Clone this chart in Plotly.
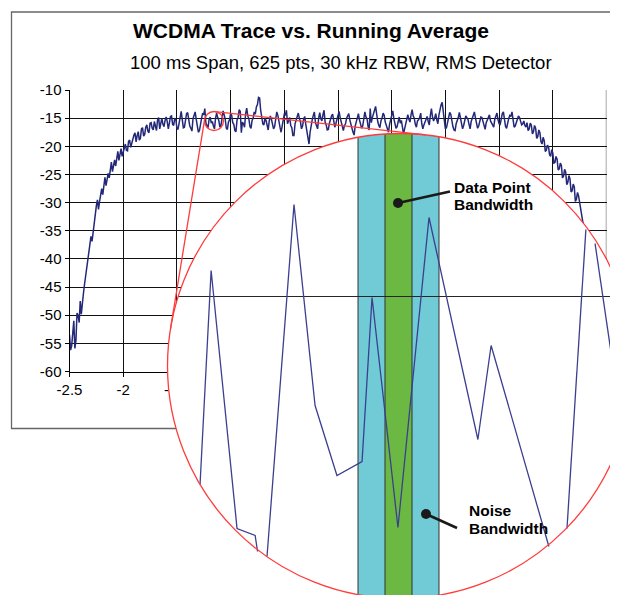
import numpy as np
import plotly.graph_objects as go

# ------------------------------------------------------------------ data
TITLE = "WCDMA Trace vs. Running Average"
SUBTITLE = "100 ms Span, 625 pts, 30 kHz RBW, RMS Detector"

# main trace: frequency offset (MHz) and level (dB)
freq_mhz = np.round(np.linspace(-2.5, 2.5, 501), 2)
level_db = [
    # rising edge  (-2.50 .. -1.60)
    -53.5, -56.2, -55.5, -52.8, -51.0, -55.9, -54.5, -49.6, -50.0, -51.3,
    -47.5, -49.8, -47.3, -46.1, -44.5, -43.0, -41.0, -40.2, -38.4, -37.1,
    -36.0, -36.9, -35.0, -33.4, -32.0, -30.6, -29.5, -31.2, -29.8, -28.1,
    -27.5, -28.6, -26.4, -25.5, -27.0, -25.9, -24.8, -25.6, -23.9, -22.8,
    -24.5, -23.2, -22.4, -23.5, -21.6, -20.9, -22.5, -21.4, -20.4, -21.8,
    -21.1, -19.9, -19.6, -20.7, -20.8, -19.1, -18.9, -20.2, -19.5, -18.3,
    -18.0, -17.6, -19.2, -18.1, -17.4, -18.9, -18.6, -16.9, -16.7, -18.2,
    -17.9, -16.6, -16.2, -17.3, -17.6, -15.9, -15.8, -16.8, -17.1, -15.6,
    -16.4, -17.2, -15.3, -14.9, -16.9, -15.8, -15.0, -16.1, -16.5, -15.4,
    -14.8,
    # in-band  (-1.59 .. 1.74)
    -15.6, -16.9, -15.9, -14.7, -14.6, -16.1, -16.3, -15.0, -15.2, -16.8,
    -17.0, -15.4, -14.9, -13.8, -15.8, -16.7, -16.6, -15.1, -14.2, -14.0,
    -15.5, -16.4, -16.8, -17.3, -15.1, -14.5, -13.9, -15.2, -16.2, -17.5,
    -17.2, -15.7, -15.0, -14.1, -14.4, -13.3, -15.9, -16.3, -16.7, -15.2,
    -14.8, -15.9, -15.6, -16.4, -16.9, -15.0, -14.1, -14.9, -15.4, -16.6,
    -16.3, -15.1, -13.7, -14.4, -15.2, -16.8, -17.0, -15.7, -15.3, -14.2,
    -14.5, -15.8, -16.1, -17.2, -17.4, -15.3, -14.9, -13.5, -13.8, -17.6,
    -15.7, -16.0, -16.6, -14.2, -13.2, -14.6, -15.1, -16.5, -16.8, -15.4,
    -15.0, -13.9, -14.3, -13.0, -12.6, -11.3, -11.4, -13.6, -14.8, -16.0,
    -16.2, -15.1, -15.4, -16.7, -17.1, -15.5, -14.6, -15.2, -15.9, -16.9,
    -16.5, -14.8, -13.9, -14.5, -15.3, -16.6, -17.5, -16.2, -15.8, -14.3,
    -14.4, -13.6, -16.0, -15.5, -14.9, -16.3, -16.7, -18.1, -18.1, -16.0,
    -15.2, -14.7, -14.1, -15.0, -15.6, -16.9, -16.4, -15.2, -14.7, -16.1,
    -17.3, -18.4, -19.6, -17.5, -16.0, -15.3, -14.5, -13.9, -15.8, -16.6,
    -16.9, -15.0, -14.0, -15.1, -15.5, -14.4, -13.6, -15.7, -16.2, -17.1,
    -17.0, -15.9, -15.1, -14.6, -14.3, -15.8, -16.6, -16.0, -15.4, -14.6,
    -13.8, -14.9, -15.7, -16.6, -17.2, -16.3, -16.0, -15.0, -14.6, -14.2,
    -15.3, -16.4, -16.8, -17.5, -18.0, -16.4, -15.5, -14.7, -14.2, -15.3,
    -15.9, -16.8, -16.4, -14.6, -13.9, -14.8, -15.1, -16.5, -17.1, -13.3,
    -15.8, -14.9, -14.0, -13.6, -12.9, -14.9, -15.6, -16.3, -16.7, -15.5,
    -15.0, -14.1, -14.5, -15.7, -16.3, -17.0, -17.5, -16.1, -15.2, -14.3,
    -13.7, -15.1, -15.9, -16.8, -16.5, -15.3, -14.8, -15.9, -15.4, -16.6,
    -17.8, -16.9, -16.1, -15.0, -14.4, -15.2, -15.7, -14.4, -13.5, -14.6,
    -15.0, -16.1, -16.6, -15.5, -15.3, -14.9, -14.1, -16.0, -16.9, -16.2,
    -15.6, -15.0, -14.7, -15.6, -16.2, -14.5, -13.3, -14.8, -15.5, -15.0,
    -14.2, -15.3, -16.0, -14.4, -13.1, -12.6, -12.2, -14.3, -15.4, -16.9,
    -16.7, -15.8, -15.1, -14.0, -14.3, -15.7, -16.5, -17.1, -17.2, -16.0,
    -15.6, -14.9, -14.0, -15.2, -15.8, -16.9, -16.3, -15.4, -14.6, -14.9,
    -15.2, -16.1, -16.9, -15.6, -15.0, -14.2, -13.9, -15.0, -15.7, -16.8,
    -16.4, -15.3, -14.8, -14.9, -15.5, -16.4, -17.0, -15.8, -15.2, -14.6,
    -14.4, -15.5, -15.9, -16.3, -16.6, -15.2, -14.5, -14.1, -15.3, -16.0,
    -16.1, -15.0, -14.2, -13.9, -15.7, -16.5, -16.8, -15.6, -15.0, -14.5,
    -14.7, -13.9, -15.8, -16.6, -16.4, -15.7, -15.1, -14.6, -14.9, -15.8,
    -16.2, -16.0, -15.5, -16.3,
    # falling edge  (1.75 .. 2.50)
    -16.6, -15.8, -17.2, -16.9, -15.9, -16.2, -17.8, -17.4, -16.3, -16.8,
    -18.6, -18.3, -17.1, -17.6, -19.2, -19.6, -18.4, -19.0, -20.9, -20.7,
    -19.8, -20.1, -21.5, -21.8, -20.6, -21.2, -23.0, -22.9, -21.8, -22.3,
    -24.2, -24.0, -23.0, -23.4, -25.6, -25.3, -24.1, -24.6, -26.8, -26.4,
    -25.2, -25.8, -28.1, -27.9, -26.7, -27.2, -29.8, -29.4, -28.2, -28.8,
    -30.2, -31.0, -32.6, -33.5, -34.1, -35.2, -36.5, -37.4, -38.2, -39.6,
    -40.3, -41.5, -42.9, -43.8, -44.4, -45.6, -47.0, -47.9, -48.5, -49.5,
    -50.9, -51.8, -52.4, -53.4, -54.6, -55.0,
]

x_tick_vals = [-2.5, -2.0, -1.5, -1.0, -0.5, 0.0, 0.5, 1.0, 1.5, 2.0, 2.5]
x_tick_text = ["-2.5", "-2", "-1.5", "-1", "-0.5", "0", "0.5", "1", "1.5", "2", "2.5"]
y_tick_vals = [-60, -55, -50, -45, -40, -35, -30, -25, -20, -15, -10]
y_tick_text = ["-60", "-55", "-50", "-45", "-40", "-35", "-30", "-25", "-20", "-15", "-10"]

# magnified view: x in trace points relative to the marked point, y in dB
# (None = where the line leaves the magnifier)
zoom_pts = [-7.35, -6.94, -5.98, -5.31, -5.22, None,
            -4.87, -3.87, -3.09, -2.28, -1.35, -0.98, -0.02, 1.13, 2.94, 3.43, 5.57, None,
            6.24, 6.94, None,
            7.28, 8.09, 8.57]
zoom_db = [-16.88, -14.74, -17.32, -17.39, -17.55, None,
           -17.60, -14.08, -16.09, -16.79, -16.65, -15.01, -17.31, -14.21, -16.43, -15.49, -17.50, None,
           -17.32, -14.33, None,
           -14.47, -15.99, -16.84]
zoom_grid_db = -15.0
data_point_bw = 1.0   # in trace points
noise_bw = 3.0        # in trace points

label_data_point = ["Data Point", "Bandwidth"]
label_noise = ["Noise", "Bandwidth"]

# ------------------------------------------------------------------ geometry / style
W, H = 618, 595
OFF = 8.0          # page offset of the figure (body margin); coords below are window pixels
FONT = "Liberation Sans, Arial, sans-serif"
PLOT_L, PLOT_R, PLOT_T, PLOT_B = 69.5, 606.5, 90.0, 371.5
LENS_C, LENS_R = (214.0, 121.0), 9.5          # small circle on the main chart
MAG_C, MAG_R = (400.0, 366.0), 232.5          # magnifier circle
MAG_X0_PX, PX_PER_PT = 398.5, 27.0
GRID_PY, PX_PER_DB = 296.5, 100.0

NAVY = "#232878"
ZNAVY = "#3b3f8f"
RED = "#ff3b3b"
CYAN = "#70cbd7"
GREEN = "#6bb843"


def pxp(x):
    return (x - OFF) / W


def pyp(y):
    return 1 - (y - OFF) / H


def x2_of(px):
    return (px - MAG_X0_PX) / PX_PER_PT


def y2_of(py):
    return zoom_grid_db - (py - GRID_PY) / PX_PER_DB


cx2, cy2 = x2_of(MAG_C[0]), y2_of(MAG_C[1])
rx2, ry2 = MAG_R / PX_PER_PT, MAG_R / PX_PER_DB


def half_height(xs):
    xs = np.asarray(xs, dtype=float)
    return ry2 * np.sqrt(np.clip(1 - ((xs - cx2) / rx2) ** 2, 0, None))


fig = go.Figure()

# main chart
fig.add_trace(go.Scatter(x=freq_mhz, y=level_db, mode="lines",
                         line=dict(color=NAVY, width=1.5),
                         xaxis="x", yaxis="y", hoverinfo="skip"))

# bandwidth bands inside the magnifier
bands = [(-noise_bw / 2, -data_point_bw / 2, CYAN),
         (-data_point_bw / 2, data_point_bw / 2, GREEN),
         (data_point_bw / 2, noise_bw / 2, CYAN)]
for a, b, col in bands:
    xs = np.linspace(a, b, 24)
    hh = half_height(xs)
    bx = np.concatenate([xs, xs[::-1], xs[:1]])
    by = np.concatenate([cy2 + hh, (cy2 - hh)[::-1], [cy2 + hh[0]]])
    fig.add_trace(go.Scatter(x=bx, y=by, mode="lines", fill="toself",
                             fillcolor=col, line=dict(width=0, color=col),
                             xaxis="x2", yaxis="y2", hoverinfo="skip"))

edge_x, edge_y = [], []
for e in [-noise_bw / 2, -data_point_bw / 2, data_point_bw / 2, noise_bw / 2]:
    h = float(half_height([e])[0])
    edge_x += [e, e, None]
    edge_y += [cy2 - h, cy2 + h, None]
fig.add_trace(go.Scatter(x=edge_x, y=edge_y, mode="lines",
                         line=dict(color="#333333", width=1),
                         xaxis="x2", yaxis="y2", hoverinfo="skip"))

# magnified grid line
half_w = rx2 * np.sqrt(1 - ((zoom_grid_db - cy2) / ry2) ** 2)
fig.add_trace(go.Scatter(x=[cx2 - half_w, cx2 + half_w], y=[zoom_grid_db, zoom_grid_db],
                         mode="lines", line=dict(color="#262626", width=1.2),
                         xaxis="x2", yaxis="y2", hoverinfo="skip"))

# magnified trace
fig.add_trace(go.Scatter(x=zoom_pts, y=zoom_db, mode="lines", connectgaps=False,
                         line=dict(color=ZNAVY, width=1.3),
                         xaxis="x2", yaxis="y2", hoverinfo="skip"))

# pointers (dot + leader line), window pixel positions of the callouts
pointers = [((398.0, 203.0), (450.0, 191.5)), ((426.0, 514.0), (457.0, 528.0))]
for (d, e) in pointers:
    fig.add_trace(go.Scatter(x=[x2_of(d[0]), x2_of(e[0])], y=[y2_of(d[1]), y2_of(e[1])],
                             mode="lines", line=dict(color="#1a1a1a", width=2.6),
                             xaxis="x2", yaxis="y2", hoverinfo="skip"))
    fig.add_trace(go.Scatter(x=[x2_of(d[0])], y=[y2_of(d[1])], mode="markers",
                             marker=dict(color="#1a1a1a", size=10),
                             xaxis="x2", yaxis="y2", hoverinfo="skip"))

# ------------------------------------------------------------------ shapes
shapes = []
# outer chart frame
shapes.append(dict(type="rect", xref="paper", yref="paper",
                   x0=pxp(11.5), x1=pxp(680), y0=pyp(428.5), y1=pyp(12),
                   line=dict(color="#666666", width=1.3), fillcolor="rgba(0,0,0,0)",
                   layer="below"))
# magnifier: white disc (covers main chart) and red outline on top
shapes.append(dict(type="circle", xref="x2", yref="y2",
                   x0=cx2 - rx2, x1=cx2 + rx2, y0=cy2 - ry2, y1=cy2 + ry2,
                   fillcolor="white", line=dict(width=0), layer="below"))
shapes.append(dict(type="circle", xref="x2", yref="y2",
                   x0=cx2 - rx2, x1=cx2 + rx2, y0=cy2 - ry2, y1=cy2 + ry2,
                   fillcolor="rgba(0,0,0,0)", line=dict(color=RED, width=1.3), layer="above"))
# small lens circle
shapes.append(dict(type="circle", xref="paper", yref="paper",
                   x0=pxp(LENS_C[0] - LENS_R), x1=pxp(LENS_C[0] + LENS_R),
                   y0=pyp(LENS_C[1] + LENS_R), y1=pyp(LENS_C[1] - LENS_R),
                   line=dict(color=RED, width=1.3), layer="above"))
# external tangents between lens and magnifier
c1, c2 = np.array(LENS_C), np.array(MAG_C)
dvec = c2 - c1
L = np.hypot(*dvec)
phi = np.arctan2(dvec[1], dvec[0])
theta = np.arccos((MAG_R - LENS_R) / L)
for s in (1, -1):
    ang = phi + s * theta
    n = np.array([np.cos(ang), np.sin(ang)])
    t1 = c1 - LENS_R * n
    t2 = c2 - MAG_R * n
    shapes.append(dict(type="line", xref="paper", yref="paper",
                       x0=pxp(t1[0]), y0=pyp(t1[1]), x1=pxp(t2[0]), y1=pyp(t2[1]),
                       line=dict(color=RED, width=1.3), layer="above"))
# grey right border of plot area
shapes.append(dict(type="line", xref="x", yref="paper", x0=2.5, x1=2.5,
                   y0=pyp(PLOT_B), y1=pyp(PLOT_T), line=dict(color="#8a8a8a", width=1.5),
                   layer="between"))

# ------------------------------------------------------------------ annotations
ann = []
ann.append(dict(text="<b>%s</b>" % TITLE, x=pxp(311), y=pyp(30.5), xref="paper", yref="paper",
                xanchor="center", yanchor="middle", showarrow=False,
                font=dict(family=FONT, size=21, color="black")))
ann.append(dict(text=SUBTITLE, x=pxp(341.5), y=pyp(62), xref="paper", yref="paper",
                xanchor="center", yanchor="middle", showarrow=False,
                font=dict(family=FONT, size=18.5, color="black")))
for txt, (x, y) in zip(label_data_point + label_noise,
                       [(451.5, 187), (451.5, 204.5), (466.5, 510), (466.5, 528.5)]):
    ann.append(dict(text="<b>%s</b>" % txt, x=pxp(x), y=pyp(y), xref="paper", yref="paper",
                    xanchor="left", yanchor="middle", showarrow=False,
                    font=dict(family=FONT, size=15.5, color="black")))

axis_common = dict(ticks="outside", ticklen=4, tickcolor="black", tickwidth=1,
                   showgrid=True, gridcolor="#111111", gridwidth=1, zeroline=False,
                   showline=True, linecolor="black", linewidth=1, automargin=False,
                   tickfont=dict(family=FONT, size=15, color="black"), fixedrange=True)

fig.update_layout(
    template="none",
    width=W, height=H, margin=dict(l=0, r=0, t=0, b=0, pad=0), autosize=False,
    paper_bgcolor="white", plot_bgcolor="rgba(0,0,0,0)", showlegend=False,
    font=dict(family=FONT, color="black"),
    xaxis=dict(domain=[pxp(PLOT_L), pxp(PLOT_R)], range=[-2.5, 2.5], anchor="y",
               tickmode="array", tickvals=x_tick_vals, ticktext=x_tick_text, **axis_common),
    yaxis=dict(domain=[pyp(PLOT_B), pyp(PLOT_T)], range=[-60, -10], anchor="x",
               tickmode="array", tickvals=y_tick_vals, ticktext=y_tick_text, **axis_common),
    xaxis2=dict(domain=[0, 1], range=[x2_of(OFF), x2_of(W + OFF)], anchor="y2", visible=False,
                automargin=False, fixedrange=True),
    yaxis2=dict(domain=[0, 1], range=[y2_of(H + OFF), y2_of(OFF)], anchor="x2", visible=False,
                automargin=False, fixedrange=True),
    shapes=shapes, annotations=ann,
)

fig.write_html("out.html")
